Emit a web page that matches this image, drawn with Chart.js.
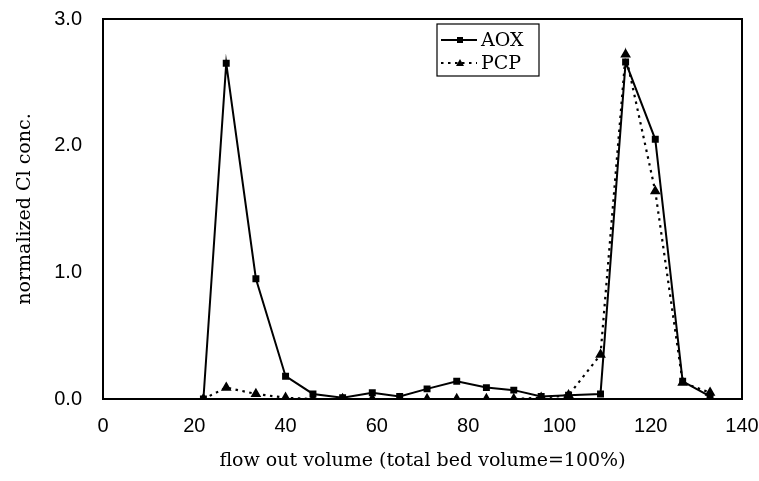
<!DOCTYPE html>
<html>
<head>
<meta charset="utf-8">
<script src="https://cdn.jsdelivr.net/npm/chart.js@4/dist/chart.umd.min.js"></script>
<style>
  html, body { margin: 0; padding: 0; background: #fff; }
  #wrap { width: 759px; height: 481px; }
</style>
</head>
<body>
<div id="wrap"><canvas id="c"></canvas></div>
<script>
// flow out volume (% of total bed volume)
const volume = [22, 27, 33.5, 40, 46, 52.5, 59, 65, 71, 77.5, 84, 90, 96, 102, 109, 114.5, 121, 127, 133];
// normalized Cl conc.
const aox = [0, 2.65, 0.95, 0.18, 0.04, 0.01, 0.05, 0.02, 0.08, 0.14, 0.09, 0.07, 0.02, 0.03, 0.04, 2.66, 2.05, 0.14, 0.02];
const pcp = [0, 0.09, 0.04, 0.01, 0, 0, 0, 0, 0, 0, 0, 0, 0.01, 0.03, 0.35, 2.72, 1.64, 0.13, 0.05];
const xTicks = [0, 20, 40, 60, 80, 100, 120, 140];
const yTicks = [0, 1, 2, 3];

const pts = vals => vals.map((v, i) => ({ x: volume[i], y: v }));
const serif = '"DejaVu Serif", "Liberation Serif", serif';
const sans = 'Arial, "Liberation Sans", sans-serif';

// 枠線と凡例を描く
const frameAndLegend = {
  id: 'frameAndLegend',
  afterDatasetsDraw(chart) {
    const { ctx, chartArea: a } = chart;
    ctx.save();
    ctx.strokeStyle = '#000';
    ctx.lineWidth = 2;
    ctx.strokeRect(a.left, a.top, a.right - a.left, a.bottom - a.top);

    // legend box
    const bx = 437, by = 24, bw = 102, bh = 52;
    ctx.fillStyle = '#fff';
    ctx.fillRect(bx, by, bw, bh);
    ctx.lineWidth = 1.2;
    ctx.strokeRect(bx, by, bw, bh);
    ctx.font = '19px ' + serif;
    ctx.textBaseline = 'middle';
    chart.data.datasets.forEach((ds, i) => {
      const y = by + 16 + i * 23;
      ctx.strokeStyle = '#000';
      ctx.lineWidth = 2;
      ctx.setLineDash(ds.borderDash || []);
      ctx.beginPath();
      ctx.moveTo(bx + 4, y);
      ctx.lineTo(bx + 40, y);
      ctx.stroke();
      ctx.setLineDash([]);
      ctx.fillStyle = '#000';
      const px = bx + 23;
      if (ds.pointStyle === 'triangle') {
        ctx.beginPath();
        ctx.moveTo(px, y - 4);
        ctx.lineTo(px + 4, y + 3);
        ctx.lineTo(px - 4, y + 3);
        ctx.closePath();
        ctx.fill();
      } else {
        ctx.fillRect(px - 3, y - 3, 6, 6);
      }
      ctx.fillText(ds.label, bx + 44, y + 1);
    });
    ctx.restore();
  }
};

new Chart(document.getElementById('c'), {
  type: 'scatter',
  data: {
    datasets: [
      {
        label: 'AOX',
        data: pts(aox),
        showLine: true,
        borderColor: '#000',
        backgroundColor: '#000',
        borderWidth: 2,
        pointStyle: 'rect',
        pointRadius: 3.5,
        tension: 0
      },
      {
        label: 'PCP',
        data: pts(pcp),
        showLine: true,
        borderColor: '#000',
        backgroundColor: '#000',
        borderWidth: 2.2,
        borderDash: [2.5, 4.5],
        pointStyle: 'triangle',
        pointRadius: 4,
        tension: 0
      }
    ]
  },
  options: {
    responsive: true,
    maintainAspectRatio: false,
    animation: false,
    layout: { padding: { top: 19, right: 17, left: 0, bottom: 0 } },
    plugins: {
      legend: { display: false },
      tooltip: { enabled: false }
    },
    scales: {
      x: {
        type: 'linear',
        min: 0,
        max: 140,
        afterBuildTicks: axis => { axis.ticks = xTicks.map(v => ({ value: v })); },
        afterFit: axis => {
          axis.height = 82;
          axis.paddingLeft = 0;
          axis.paddingRight = 0;
        },
        grid: { display: false, drawTicks: false },
        border: { display: true, color: '#000', width: 2 },
        ticks: { color: '#000', font: { family: sans, size: 20 }, padding: 15, maxRotation: 0 },
        title: {
          display: true,
          text: 'flow out volume (total bed volume=100%)',
          color: '#000',
          font: { family: serif, size: 19 },
          padding: { top: 0, bottom: 9 }
        }
      },
      y: {
        min: 0,
        max: 3,
        afterBuildTicks: axis => { axis.ticks = yTicks.map(v => ({ value: v })); },
        afterFit: axis => {
          axis.width = 103;
          axis.paddingTop = 0;
          axis.paddingBottom = 0;
        },
        grid: { display: false, drawTicks: false },
        border: { display: true, color: '#000', width: 2 },
        ticks: {
          color: '#000',
          font: { family: sans, size: 20 },
          padding: 21,
          callback: v => v.toFixed(1)
        },
        title: {
          display: true,
          text: 'normalized Cl conc.',
          color: '#000',
          font: { family: serif, size: 19 },
          padding: { top: 14, bottom: 0 }
        }
      }
    }
  },
  plugins: [frameAndLegend]
});
</script>
</body>
</html>
